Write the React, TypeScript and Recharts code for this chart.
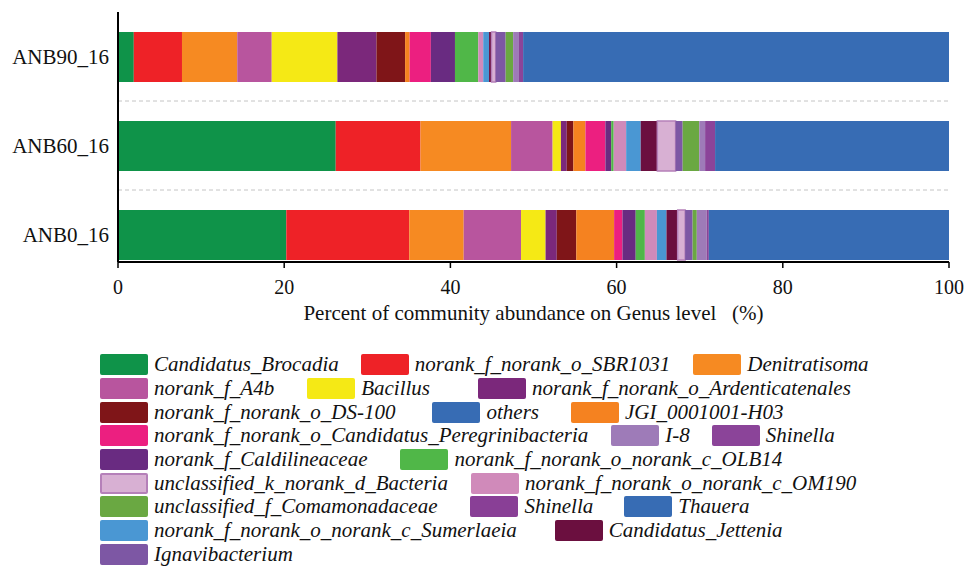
import React from "react";
import {
  BarChart,
  Bar,
  XAxis,
  YAxis,
  CartesianGrid,
} from "recharts";

// Samples, top to bottom
const samples = ["ANB90_16", "ANB60_16", "ANB0_16"];

// Relative abundance (%) per genus, ordered as samples above
const brocadia = [1.9, 26.2, 20.25];
const sbr1031 = [5.8, 10.2, 14.8];
const denitratisoma = [6.65, 10.9, 6.55];
const a4b = [4.15, 5.0, 6.9];
const bacillus = [7.9, 1.0, 2.95];
const ardenticatenales = [4.7, 0.7, 1.35];
const ds100 = [3.45, 0.8, 2.35];
const jgi = [0.55, 1.45, 4.55];
const peregrini = [2.55, 2.4, 1.0];
const caldilineaceae = [2.9, 0.7, 1.6];
const olb14 = [2.8, 0.3, 1.1];
const om190 = [0.6, 1.5, 1.45];
const sumerlaeia = [0.7, 1.75, 1.15];
const jettenia = [0.3, 2.0, 1.35];
const unclBacteria = [0.5, 2.2, 0.9];
const ignavibacterium = [1.2, 0.85, 0.9];
const comamonadaceae = [0.9, 2.0, 0.5];
const i8 = [0.7, 0.7, 1.2];
const shinella = [0.5, 1.2, 0.25];
const shinella2 = [0, 0, 0];
const thauera = [0, 0, 0];
const others = [51.25, 28.15, 28.9];

const xTicks = [0, 20, 40, 60, 80, 100];

type Series = {
  key: string;
  name: string;
  color: string;
  values: number[];
  stroke?: string;
};

// Stacking order, left to right
const series: Series[] = [
  { key: "brocadia", name: "Candidatus_Brocadia", color: "#0f9349", values: brocadia },
  { key: "sbr1031", name: "norank_f_norank_o_SBR1031", color: "#ee2227", values: sbr1031 },
  { key: "denitratisoma", name: "Denitratisoma", color: "#f68a22", values: denitratisoma },
  { key: "a4b", name: "norank_f_A4b", color: "#b8559e", values: a4b },
  { key: "bacillus", name: "Bacillus", color: "#f5e915", values: bacillus },
  { key: "ardenticatenales", name: "norank_f_norank_o_Ardenticatenales", color: "#7b287b", values: ardenticatenales },
  { key: "ds100", name: "norank_f_norank_o_DS-100", color: "#7f1518", values: ds100 },
  { key: "jgi", name: "JGI_0001001-H03", color: "#f58220", values: jgi },
  { key: "peregrini", name: "norank_f_norank_o_Candidatus_Peregrinibacteria", color: "#ec1f80", values: peregrini },
  { key: "caldilineaceae", name: "norank_f_Caldilineaceae", color: "#692b81", values: caldilineaceae },
  { key: "olb14", name: "norank_f_norank_o_norank_c_OLB14", color: "#50b748", values: olb14 },
  { key: "om190", name: "norank_f_norank_o_norank_c_OM190", color: "#d08aba", values: om190 },
  { key: "sumerlaeia", name: "norank_f_norank_o_norank_c_Sumerlaeia", color: "#4a97d3", values: sumerlaeia },
  { key: "jettenia", name: "Candidatus_Jettenia", color: "#6b0f3f", values: jettenia },
  { key: "unclBacteria", name: "unclassified_k_norank_d_Bacteria", color: "#d8b0d3", stroke: "#b580b9", values: unclBacteria },
  { key: "ignavibacterium", name: "Ignavibacterium", color: "#7d57a4", values: ignavibacterium },
  { key: "comamonadaceae", name: "unclassified_f_Comamonadaceae", color: "#6aa842", values: comamonadaceae },
  { key: "i8", name: "I-8", color: "#9e7bb8", values: i8 },
  { key: "shinella", name: "Shinella", color: "#8b4499", values: shinella },
  { key: "shinella2", name: "Shinella", color: "#893f96", values: shinella2 },
  { key: "thauera", name: "Thauera", color: "#376cb4", values: thauera },
  { key: "others", name: "others", color: "#376cb4", values: others },
];

// Legend reading order
const legendOrder = [
  "brocadia", "sbr1031", "denitratisoma",
  "a4b", "bacillus", "ardenticatenales",
  "ds100", "others", "jgi",
  "peregrini", "i8", "shinella",
  "caldilineaceae", "olb14",
  "unclBacteria", "om190",
  "comamonadaceae", "shinella2", "thauera",
  "sumerlaeia", "jettenia",
  "ignavibacterium",
];

// Spacing after each legend entry
const legendSpacing: Record<string, number> = {
  brocadia: 22, sbr1031: 23,
  a4b: 33, bacillus: 48,
  ds100: 37, others: 32,
  peregrini: 23, i8: 22,
  caldilineaceae: 33,
  unclBacteria: 23,
  comamonadaceae: 33, shinella2: 31,
  sumerlaeia: 38,
};

const data = samples.map((sample, i) => {
  const row: Record<string, string | number> = { sample };
  series.forEach((s) => {
    row[s.key] = s.values[i];
  });
  return row;
});

const FONT = "'Liberation Serif', 'Times New Roman', Tinos, Times, serif";

// Dashed separators between sample bands
const bandEdges = (props: any) => {
  const yAxis = props?.yAxis;
  if (yAxis && typeof yAxis.scale === "function") {
    return samples.slice(1).map((s) => yAxis.scale(s));
  }
  const off = props?.offset;
  const band = (off.height + 17) / samples.length;
  return samples.slice(1).map((_, i) => off.top + band * (i + 1));
};

function GenusLegend() {
  return (
    <div
      style={{
        position: "absolute",
        left: 100,
        top: 353,
        width: 860,
        display: "flex",
        flexWrap: "wrap",
        fontFamily: FONT,
      }}
    >
      {legendOrder.map((k) => {
        const s = series.find((x) => x.key === k)!;
        return (
          <div
            key={k}
            style={{
              display: "flex",
              alignItems: "center",
              height: 23.7,
              marginRight: legendSpacing[k] ?? 24,
            }}
          >
            <div
              style={{
                width: 48,
                height: 21,
                background: s.color,
                borderRadius: 2,
                boxSizing: "border-box",
                border: s.stroke ? `2px solid ${s.stroke}` : "none",
              }}
            />
            <span
              style={{
                marginLeft: 6,
                fontStyle: "italic",
                fontSize: 21,
                lineHeight: 1,
                color: "#111",
                whiteSpace: "nowrap",
                fontFamily: FONT,
              }}
            >
              {s.name}
            </span>
          </div>
        );
      })}
    </div>
  );
}

export default function App() {
  return (
    <div
      style={{
        position: "absolute",
        left: 0,
        top: 0,
        width: 967,
        height: 566,
        background: "#fff",
        overflow: "hidden",
        fontFamily: FONT,
      }}
    >
      <BarChart
        width={967}
        height={340}
        data={data}
        layout="vertical"
        margin={{ top: 12, right: 18, left: 0, bottom: 18 }}
        barSize={50}
        style={{ fontFamily: FONT }}
      >
        <CartesianGrid
          horizontal={true}
          vertical={false}
          stroke="#c4c4c4"
          strokeDasharray="4 3"
          horizontalCoordinatesGenerator={bandEdges}
        />
        <XAxis
          type="number"
          domain={[0, 100]}
          ticks={xTicks}
          allowDecimals={false}
          height={60}
          tickSize={6}
          tickMargin={12}
          axisLine={{ stroke: "#000", strokeWidth: 2 }}
          tickLine={{ stroke: "#000", strokeWidth: 1.5 }}
          tick={{ fontSize: 20, fill: "#111", fontFamily: FONT }}
          label={{
            value: "Percent of community abundance on Genus level\u00a0\u00a0\u00a0(%)",
            position: "insideBottom",
            offset: 2,
            style: { fontSize: 21, fill: "#111", fontFamily: FONT },
          }}
        />
        <XAxis
          xAxisId="top"
          type="number"
          domain={[0, 100]}
          orientation="top"
          height={0}
          tick={false}
          tickLine={false}
          axisLine={{ stroke: "#000", strokeWidth: 2 }}
        />
        <YAxis
          type="category"
          dataKey="sample"
          width={118}
          padding={{ top: 0, bottom: -17 }}
          tickSize={0}
          tickMargin={9}
          tickLine={false}
          axisLine={{ stroke: "#000", strokeWidth: 2 }}
          tick={{ fontSize: 21, fill: "#111", fontFamily: FONT }}
        />
        <YAxis
          yAxisId="right"
          type="category"
          dataKey="sample"
          orientation="right"
          width={0}
          tick={false}
          tickLine={false}
          axisLine={{ stroke: "#000", strokeWidth: 2 }}
        />
        {series.map((s) => (
          <Bar
            key={s.key}
            dataKey={s.key}
            name={s.name}
            stackId="genus"
            fill={s.color}
            stroke={s.stroke}
            strokeWidth={s.stroke ? 1.5 : 0}
            isAnimationActive={false}
          />
        ))}
      </BarChart>
      <GenusLegend />
    </div>
  );
}
